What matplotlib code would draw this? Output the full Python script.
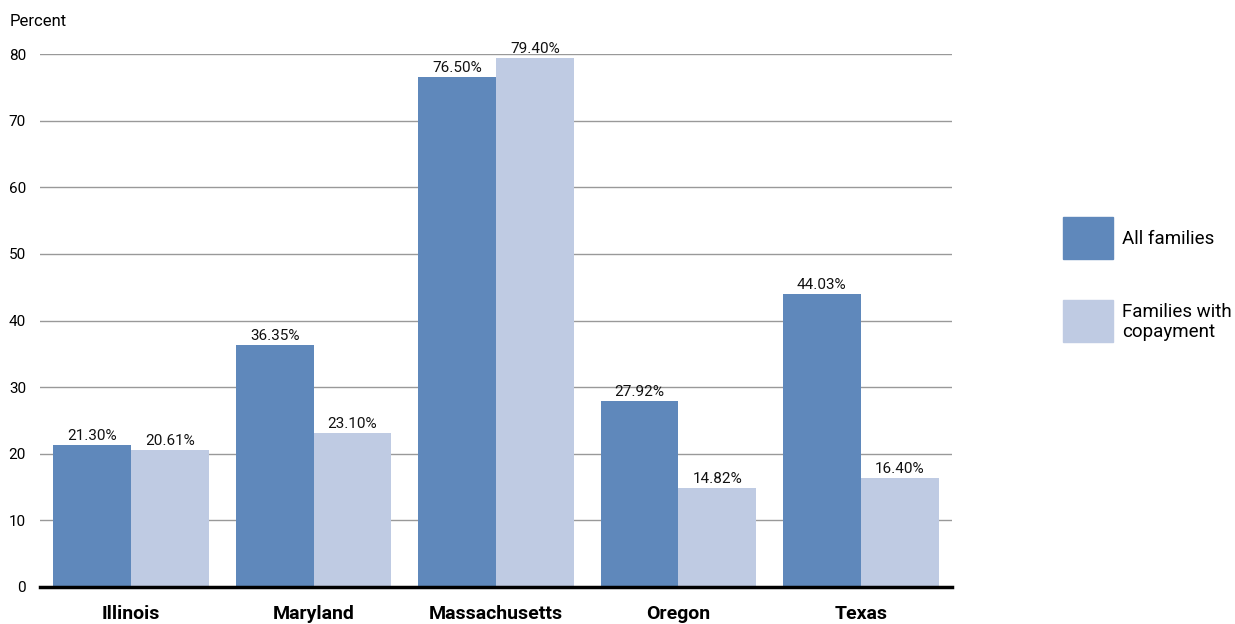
import matplotlib
matplotlib.use("Agg")
import matplotlib.pyplot as plt
from matplotlib.patches import Rectangle
import numpy as np

states = ["Illinois", "Maryland", "Massachusetts", "Oregon", "Texas"]
all_families = [21.30, 36.35, 76.50, 27.92, 44.03]
copay_families = [20.61, 23.10, 79.40, 14.82, 16.40]
series_names = ["All families", "Families with\ncopayment"]
yticks = [0, 10, 20, 30, 40, 50, 60, 70, 80]

dark = "#5f88bb"
light = "#bfcbe3"
plt.rcParams['font.family'] = ['Roboto', 'DejaVu Sans']

W, H = 1235, 624
fig = plt.figure(figsize=(W / 100, H / 100), dpi=100)
ax = fig.add_axes([40 / W, 1 - 587 / H, (952 - 40) / W, (587 - 54) / H])

x = np.arange(len(states))
bw = 0.427
b1 = ax.bar(x - bw / 2, all_families, bw, color=dark, zorder=3)
b2 = ax.bar(x + bw / 2, copay_families, bw, color=light, zorder=3)

for bars, vals in [(b1, all_families), (b2, copay_families)]:
    for r, v in zip(bars, vals):
        ax.annotate(f"{v:.2f}%", (r.get_x() + r.get_width() / 2, v),
                    xytext=(0, 1.5), textcoords="offset points",
                    ha="center", va="bottom", fontsize=11, color="#111111")

ax.set_xlim(-0.5, len(states) - 0.5)
ax.set_ylim(0, 80)
ax.set_yticks(yticks)
ax.set_yticklabels([str(t) for t in yticks], fontsize=11)
ax.set_xticks(x)
ax.set_xticklabels(states, fontsize=14, fontweight="bold")
ax.tick_params(axis="y", length=0, pad=10)
ax.tick_params(axis="x", length=0, pad=13)
ax.grid(axis="y", color="#999999", linewidth=1, zorder=0)
for s in ["top", "right", "left"]:
    ax.spines[s].set_visible(False)
ax.spines["bottom"].set_linewidth(2.5)
ax.spines["bottom"].set_color("black")
ax.spines["bottom"].set_zorder(4)

fig.text(10 / W, 1 - 21 / H, "Percent", fontsize=12, ha="left", va="center")

# legend
for (top, col, name) in [(217, dark, series_names[0]), (300, light, series_names[1])]:
    fig.add_artist(Rectangle((1063 / W, 1 - (top + 42) / H), 50 / W, 42 / H,
                             transform=fig.transFigure, color=col))
    fig.text(1122 / W, 1 - (top + 22) / H, name, fontsize=13.5, ha="left",
             va="center", linespacing=1.15)

fig.savefig("out.png", dpi=100)
